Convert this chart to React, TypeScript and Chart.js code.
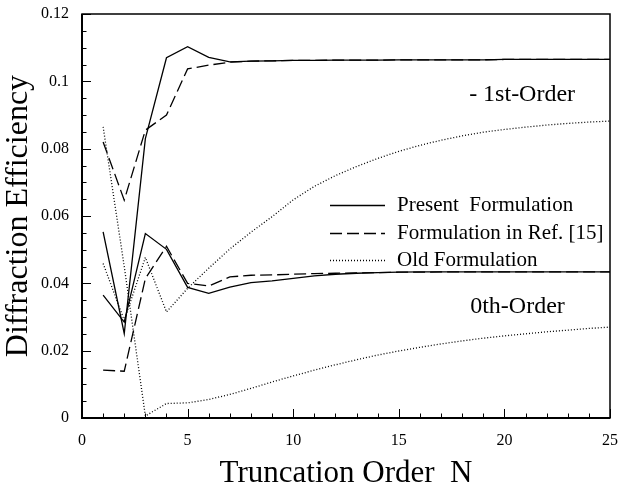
import React, { useEffect, useRef } from "react";
import { Chart, registerables } from "chart.js";

Chart.register(...registerables);

// ---------- data ----------
const truncationOrders = [1, 2, 3, 4, 5, 6, 7, 8, 9, 10, 11, 12, 13, 14, 15, 16, 17, 18, 19, 20, 21, 22, 23, 24, 25];

const presentFirstOrder = [0.0553, 0.0251, 0.083, 0.107, 0.1103, 0.1071, 0.1058, 0.106, 0.1061, 0.1062, 0.1062, 0.1063, 0.1063, 0.1063, 0.1064, 0.1064, 0.1064, 0.1064, 0.1064, 0.1065, 0.1065, 0.1065, 0.1065, 0.1065, 0.1065];
const ref15FirstOrder = [0.082, 0.0647, 0.0855, 0.09, 0.1037, 0.1048, 0.1057, 0.106, 0.1061, 0.1062, 0.1062, 0.1063, 0.1063, 0.1063, 0.1064, 0.1064, 0.1064, 0.1064, 0.1064, 0.1065, 0.1065, 0.1065, 0.1065, 0.1065, 0.1065];
const oldFirstOrder = [0.0459, 0.029, 0.0477, 0.0315, 0.0385, 0.0445, 0.0502, 0.0552, 0.0598, 0.0648, 0.0688, 0.072, 0.0747, 0.0771, 0.0792, 0.081, 0.0825, 0.0838, 0.0849, 0.0857, 0.0864, 0.087, 0.0875, 0.0879, 0.0882];

const presentZerothOrder = [0.0365, 0.0285, 0.0548, 0.0501, 0.0388, 0.037, 0.0389, 0.0402, 0.0407, 0.0415, 0.0422, 0.0427, 0.043, 0.0432, 0.0433, 0.0434, 0.0434, 0.0434, 0.0434, 0.0434, 0.0434, 0.0434, 0.0434, 0.0434, 0.0434];
const ref15ZerothOrder = [0.0142, 0.0139, 0.0414, 0.051, 0.04, 0.0392, 0.0419, 0.0424, 0.0425, 0.0427, 0.0429, 0.043, 0.0431, 0.0432, 0.0433, 0.0433, 0.0434, 0.0434, 0.0434, 0.0434, 0.0434, 0.0434, 0.0434, 0.0434, 0.0434];
const oldZerothOrder = [0.0865, 0.045, 0.0006, 0.0043, 0.0045, 0.0055, 0.007, 0.0088, 0.0107, 0.0125, 0.0142, 0.0158, 0.0173, 0.0187, 0.0199, 0.021, 0.022, 0.0229, 0.0237, 0.0244, 0.025, 0.0256, 0.0261, 0.0266, 0.027];

const yTickLabels = ["0", "0.02", "0.04", "0.06", "0.08", "0.1", "0.12"];
const xTickLabels = ["0", "5", "10", "15", "20", "25"];
const legendLabels = ["Present  Formulation", "Formulation in Ref. [15]", "Old Formulation"];
const orderLabels = [
  { text: "- 1st-Order", n: 18.33, v: 0.0959 },
  { text: "0th-Order", n: 18.38, v: 0.033 },
];

const SERIF = '"Liberation Serif", "Times New Roman", serif';
const SOLID: number[] = [];
const DASHED = [12, 5];
const DOTTED = [1, 2];

const toPoints = (vals: number[]) => truncationOrders.map((n, i) => ({ x: n, y: vals[i] }));

const lineDs = (label: string, vals: number[], dash: number[]) => ({
  label,
  data: toPoints(vals),
  borderColor: "#000",
  borderWidth: 1.3,
  borderDash: dash,
  pointRadius: 0,
  fill: false,
  tension: 0,
});

const framePlugin = {
  id: "frameTicks",
  afterDraw(chart: any) {
    const { ctx, chartArea: a, scales } = chart;
    const xs = scales.x;
    const ys = scales.y;
    ctx.save();
    ctx.strokeStyle = "#000";
    ctx.lineWidth = 1;
    for (let k = 0; k <= 24; k++) {
      const v = k * 0.005;
      const py = Math.round(ys.getPixelForValue(v)) + 0.5;
      const len = k % 4 === 0 ? 9 : 4.5;
      ctx.beginPath();
      ctx.moveTo(a.left, py);
      ctx.lineTo(a.left + len, py);
      ctx.stroke();
    }
    for (let n = 0; n <= 25; n++) {
      const px = Math.round(xs.getPixelForValue(n)) + 0.5;
      const len = n % 5 === 0 ? 9 : 4.5;
      ctx.beginPath();
      ctx.moveTo(px, a.bottom);
      ctx.lineTo(px, a.bottom - len);
      ctx.stroke();
    }
    ctx.lineWidth = 1.5;
    ctx.strokeRect(a.left, a.top, a.right - a.left, a.bottom - a.top);
    ctx.lineWidth = 2;
    ctx.beginPath();
    ctx.moveTo(a.left, a.top);
    ctx.lineTo(a.left, a.bottom);
    ctx.lineTo(a.right, a.bottom);
    ctx.stroke();

    // order annotations
    ctx.fillStyle = "#000";
    ctx.font = `24px ${SERIF}`;
    ctx.textAlign = "left";
    ctx.textBaseline = "middle";
    orderLabels.forEach((o) => {
      ctx.fillText(o.text, xs.getPixelForValue(o.n), ys.getPixelForValue(o.v));
    });

    // legend
    const lx0 = a.left + 248;
    const lx1 = a.left + 303;
    const tx = a.left + 315;
    const rows = [a.top + 191, a.top + 219, a.top + 246];
    const dashes = [SOLID, DASHED, DOTTED];
    ctx.font = `21px ${SERIF}`;
    legendLabels.forEach((t, i) => {
      ctx.save();
      ctx.lineWidth = 1.3;
      ctx.setLineDash(dashes[i]);
      ctx.beginPath();
      ctx.moveTo(lx0, rows[i] + 0.5);
      ctx.lineTo(lx1, rows[i] + 0.5);
      ctx.stroke();
      ctx.restore();
      ctx.fillText(t, tx, rows[i]);
    });
    ctx.restore();
  },
};

export default function App() {
  const ref = useRef<HTMLCanvasElement | null>(null);
  useEffect(() => {
    if (!ref.current) return;
    Chart.defaults.font.family = SERIF;
    Chart.defaults.color = "#000";
    const chart = new Chart(ref.current, {
      type: "line",
      data: {
        datasets: [
          lineDs(legendLabels[0], presentFirstOrder, SOLID),
          lineDs(legendLabels[1], ref15FirstOrder, DASHED),
          lineDs(legendLabels[2], oldFirstOrder, DOTTED),
          lineDs(legendLabels[0] + " 0th", presentZerothOrder, SOLID),
          lineDs(legendLabels[1] + " 0th", ref15ZerothOrder, DASHED),
          lineDs(legendLabels[2] + " 0th", oldZerothOrder, DOTTED),
        ],
      },
      options: {
        responsive: false,
        animation: false,
        events: [],
        layout: { padding: { left: 0, right: 10, top: 14, bottom: 0 } },
        plugins: { legend: { display: false }, tooltip: { enabled: false } },
        scales: {
          x: {
            type: "linear",
            min: 0,
            max: 25,
            grid: { display: false, drawTicks: false },
            border: { display: false },
            ticks: {
              stepSize: 5,
              padding: 13,
              font: { size: 16, family: SERIF },
              color: "#000",
              callback: (v: any) => {
                const i = Math.round(Number(v) / 5);
                return Number(v) % 5 === 0 ? xTickLabels[i] : "";
              },
            },
            title: {
              display: true,
              text: "Truncation Order  N",
              font: { size: 31, family: SERIF, lineHeight: 1 },
              color: "#000",
              padding: { top: 0, bottom: 1.5 },
            },
            afterFit: (s: any) => {
              s.height = 73;
              s.paddingLeft = 0;
              s.paddingRight = 0;
            },
          },
          y: {
            type: "linear",
            min: 0,
            max: 0.12,
            grid: { display: false, drawTicks: false },
            border: { display: false },
            ticks: {
              stepSize: 0.02,
              padding: 13,
              font: { size: 16, family: SERIF },
              color: "#000",
              callback: (v: any) => yTickLabels[Math.round(Number(v) / 0.02)],
            },
            title: {
              display: true,
              text: "Diffraction Efficiency",
              font: { size: 32, family: SERIF, lineHeight: 1 },
              color: "#000",
              padding: { top: 3, bottom: 0 },
            },
            afterFit: (s: any) => {
              s.width = 82;
              s.paddingTop = 0;
              s.paddingBottom = 0;
            },
          },
        },
      },
      plugins: [framePlugin],
    });
    return () => chart.destroy();
  }, []);
  return (
    <div style={{ position: "fixed", left: 0, top: 0, width: 620, height: 491, background: "#fff" }}>
      <canvas ref={ref} width={620} height={491} style={{ display: "block", width: 620, height: 491 }} />
    </div>
  );
}
